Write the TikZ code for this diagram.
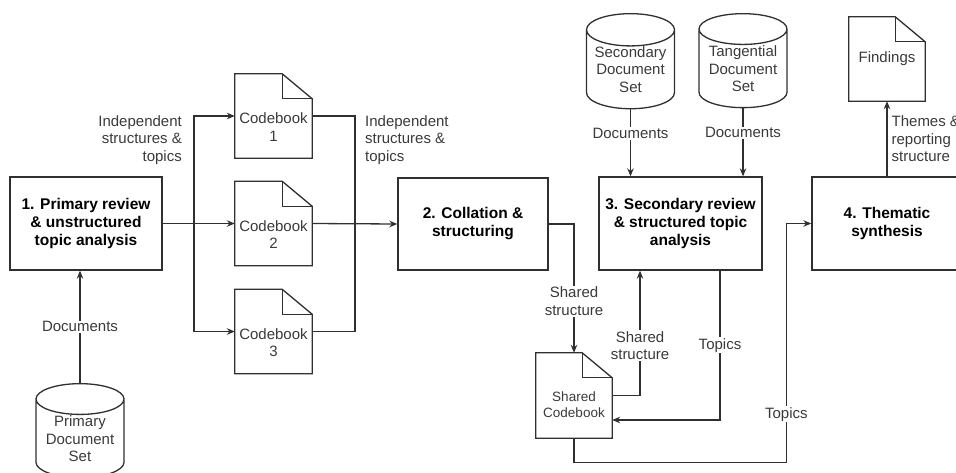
\documentclass[tikz,border=0pt]{standalone}
\usepackage{fontspec}
\setmainfont{Liberation Sans}
\usetikzlibrary{shapes.geometric,arrows.meta}

\definecolor{linegray}{HTML}{303030}
\definecolor{textgray}{HTML}{3A3A3A}

\tikzset{
  stage/.style={draw=linegray, line width=1.3pt, align=center, inner sep=0pt,
    font=\bfseries\fontsize{15.5}{18}\selectfont},
  note/.style={inner sep=0pt, minimum width=77pt, minimum height=84pt},
  notetext/.style={align=center, text=textgray, font=\fontsize{15}{17.5}\selectfont},
  store/.style={cylinder, shape border rotate=90, draw=linegray, line width=1.3pt,
    aspect=0.45, minimum width=88pt, minimum height=94pt, inner sep=0pt, anchor=north,
    align=center, text=textgray, font=\fontsize{15}{17.5}\selectfont},
  lbl/.style={align=center, fill=white, inner sep=1pt, text=textgray,
    font=\fontsize{15}{17.5}\selectfont},
  link/.style={draw=linegray, line width=1.3pt, ->},
}

% folded sheet round a named node
\newcommand{\foldnote}[1]{%
  \draw[linegray, line width=1.3pt, line join=miter] (#1.north west) -- ([xshift=-30pt]#1.north east)
    -- ([yshift=-25pt]#1.north east) -- (#1.south east) -- (#1.south west) -- cycle;
  \draw[linegray, line width=1.3pt] ([xshift=-30pt]#1.north east) |- ([yshift=-25pt]#1.north east);
}

\begin{document}
\begin{tikzpicture}[x=1pt, y=-1pt, >={Stealth[length=8pt,width=6.5pt]}]
  \useasboundingbox (0,0) rectangle (956,472);
  \clip (0,0) rectangle (956,472);

  % stages
  \node[stage, minimum width=152pt, minimum height=93pt] (prim) at (86,223.5)
    {1. Primary review\\\& unstructured\\topic analysis};
  \node[stage, minimum width=150pt, minimum height=92pt] (coll) at (473,224)
    {2. Collation \&\\structuring};
  \node[stage, minimum width=163pt, minimum height=93pt] (sec) at (680.5,223.5)
    {3. Secondary review\\\& structured topic\\analysis};
  \node[stage, minimum width=150pt, minimum height=93pt] (them) at (887,223.5)
    {4. Thematic\\synthesis};

  % document sets
  \node[store] (primset) at (80,383) {Primary\\Document\\Set};
  \node[store] (secset) at (630.5,13) {Secondary\\Document\\Set};
  \node[store] (tanset) at (743,13) {Tangential\\Document\\Set};

  % codebooks and outputs
  \node[note, label={[notetext, yshift=-11pt]center:Codebook\\1}] (cb1) at (273.5,116) {};
  \node[note, label={[notetext, yshift=-11pt]center:Codebook\\2}] (cb2) at (273.5,223.5) {};
  \node[note, label={[notetext, yshift=-11pt]center:Codebook\\3}] (cb3) at (273.5,331.5) {};
  \node[note, minimum width=76pt, minimum height=85pt,
    label={[notetext, yshift=-9pt, font=\fontsize{13.5}{15.5}\selectfont]center:Shared\\Codebook}] (shcb) at (574,395.5) {};
  \node[note, minimum width=76pt, label={[notetext]center:Findings}] (find) at (887,59) {};
  \foreach \n in {cb1,cb2,cb3,shcb,find} {\foldnote{\n}}

  % split into codebooks
  \coordinate (split) at (194,223.5);
  \coordinate (merge) at (355,223.5);
  \draw[link] (prim.east) -- (cb2.west);
  \draw[link] (split) |- (cb1.west);
  \draw[link] (split) |- (cb3.west);
  \draw[linegray, line width=1.3pt] (cb1.east) -| (merge);
  \draw[linegray, line width=1.3pt] (cb3.east) -| (merge);
  \draw[link] (cb2.east) -- (coll.west);
  \node[lbl, fill=none, align=right, anchor=east] (indepl) at (183,140)
    {Independent\\structures \&\\topics};
  \node[lbl, fill=none, align=left, anchor=west] (indepr) at (364,140)
    {Independent\\structures \&\\topics};

  % documents in
  \draw[link] (primset.north) -- (primset.north |- prim.south)
    node[lbl, midway] (docs1) {Documents};
  \draw[link] (secset.south) -- (secset.south |- sec.north)
    node[lbl, pos=0.36] (docs2) {Documents};
  \draw[link] (tanset.south) -- (tanset.south |- sec.north)
    node[lbl, pos=0.36] (docs3) {Documents};

  % shared codebook loop
  \draw[link] (coll.east) -| (shcb.north)
    node[lbl, pos=0.8] (shstr1) {Shared\\structure};
  \draw[link] (shcb.east) -| ([xshift=-40.5pt]sec.south)
    node[lbl, pos=0.7] (shstr2) {Shared\\structure};
  \draw[link] ([xshift=39.5pt]sec.south) |- ([yshift=-24.5pt]shcb.east)
    node[lbl, pos=0.25] (top1) {Topics};
  \draw[link] (shcb.south) -- ++(0,24) -| ([xshift=-25pt]them.west)
    node[lbl, pos=0.6] (top2) {Topics} -- (them.west);

  % findings
  \draw[link] (them.north) -- (find.south)
    node[lbl, fill=none, align=left, anchor=west, midway, xshift=3pt] (thml) {Themes \&\\reporting\\structure};
\end{tikzpicture}
\end{document}
